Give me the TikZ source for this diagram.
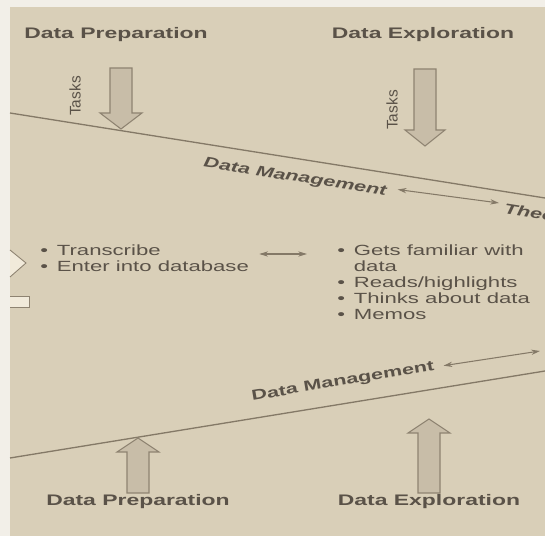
\documentclass[tikz,border=0pt]{standalone}
\usepackage{fontspec}
\setmainfont{Liberation Sans}[FakeStretch=1.5]
\newfontfamily\plainsans{Liberation Sans}
\usetikzlibrary{arrows.meta}

\definecolor{paper}{HTML}{D9CFB8}
\definecolor{margin}{HTML}{F2EFE8}
\definecolor{ink}{HTML}{5A5248}
\definecolor{rule}{HTML}{847967}
\definecolor{arrowfill}{HTML}{C8BDA8}
\definecolor{arrowline}{HTML}{8E8371}
\definecolor{tabfill}{HTML}{F1EADA}

\begin{document}
\begin{tikzpicture}[x=0.02cm, y=-0.02cm,
phase/.style={text=ink, inner sep=0pt, font={\fontsize{8.7}{8.7}\selectfont\bfseries}},
mgmt/.style={text=ink, inner sep=0pt, font={\fontsize{8.2}{8.2}\selectfont\bfseries}},
tasks/.style={text=ink, inner sep=0pt, rotate=90, font={\fontsize{8.8}{8.8}\selectfont\plainsans}},
bullets/.style={text=ink, inner sep=0pt, anchor=north west, font={\fontsize{8.4}{9.1}\selectfont}},
blockarrow/.style={draw=arrowline, fill=arrowfill, line width=0.6pt},
divider/.style={draw=rule, line width=0.75pt},
twoway/.style={draw=rule, line width=0.6pt, {Stealth[length=5pt,width=3pt]}-{Stealth[length=5pt,width=3pt]}}]

\useasboundingbox (0,0) rectangle (545,536);
\fill [margin] (0,0) rectangle (545,536);
\fill [paper] (10,7) rectangle (545,536);

\fill [tabfill, draw=arrowline, line width=0.5pt] (10,250) -- (26,263) -- (10,277);
\fill [tabfill] (10,296) rectangle (29,307);
\draw [arrowline, line width=0.5pt] (10,296) -- (29,296) -- (29,307) -- (10,307);

\node [phase] (prep-top) at (116,35) {Data Preparation};
\node [phase] (expl-top) at (423,35) {Data Exploration};

\draw [blockarrow] (110,68) -- (132,68) -- (132,113) -- (142,113) -- (121,129) -- (100,113) -- (110,113) -- cycle;
\draw [blockarrow] (414,69) -- (436,69) -- (436,130) -- (445,130) -- (425,146) -- (405,130) -- (414,130) -- cycle;

\node [tasks] (tasks-prep) at (75,96) {Tasks};
\node [tasks] (tasks-expl) at (392,110) {Tasks};

\coordinate (top-left) at (10,113);
\coordinate (top-right) at (545,198);
\draw [divider] (top-left) -- (top-right);

\node [mgmt, rotate=-9, font={\fontsize{8.2}{8.2}\selectfont\bfseries\itshape}] (mgmt-top) at (295,178) {Data Management};
\node [mgmt, rotate=-9, anchor=west, font={\fontsize{8.2}{8.2}\selectfont\bfseries\itshape}] (theory) at (504,208) {Theo};
\draw [twoway] ([shift={(11,-3)}]mgmt-top.east) -- ([shift={(-5,-5)}]theory.west);

\node [bullets] (prep-list) at (40,244) {\begin{tabular}{@{}l@{\hspace{5pt}}l@{}}
\textbullet & Transcribe\\
\textbullet & Enter into database
\end{tabular}};

\node [bullets] (expl-list) at (337,244) {\begin{tabular}{@{}l@{\hspace{5pt}}l@{}}
\textbullet & Gets familiar with\\
 & data\\
\textbullet & Reads/highlights\\
\textbullet & Thinks about data\\
\textbullet & Memos
\end{tabular}};

\draw [twoway] ([shift={(10,10)}]prep-list.north east) -- ([shift={(-30,10)}]expl-list.north west);

\coordinate (bottom-left) at (10,458);
\coordinate (bottom-right) at (545,371);
\draw [divider] (bottom-left) -- (bottom-right);

\node [mgmt, rotate=9.5] (mgmt-bottom) at (343,382) {Data Management};
\coordinate (mgmt-end) at (540,351);
\draw [twoway] ([shift={(9,-1)}]mgmt-bottom.east) -- (mgmt-end);

\draw [blockarrow] (127,493) -- (149,493) -- (149,452) -- (159,452) -- (138,438) -- (117,452) -- (127,452) -- cycle;
\draw [blockarrow] (418,493) -- (440,493) -- (440,433) -- (450,433) -- (429,419) -- (408,433) -- (418,433) -- cycle;

\node [phase] (prep-bottom) at (138,502) {Data Preparation};
\node [phase] (expl-bottom) at (429,502) {Data Exploration};

\end{tikzpicture}
\end{document}
